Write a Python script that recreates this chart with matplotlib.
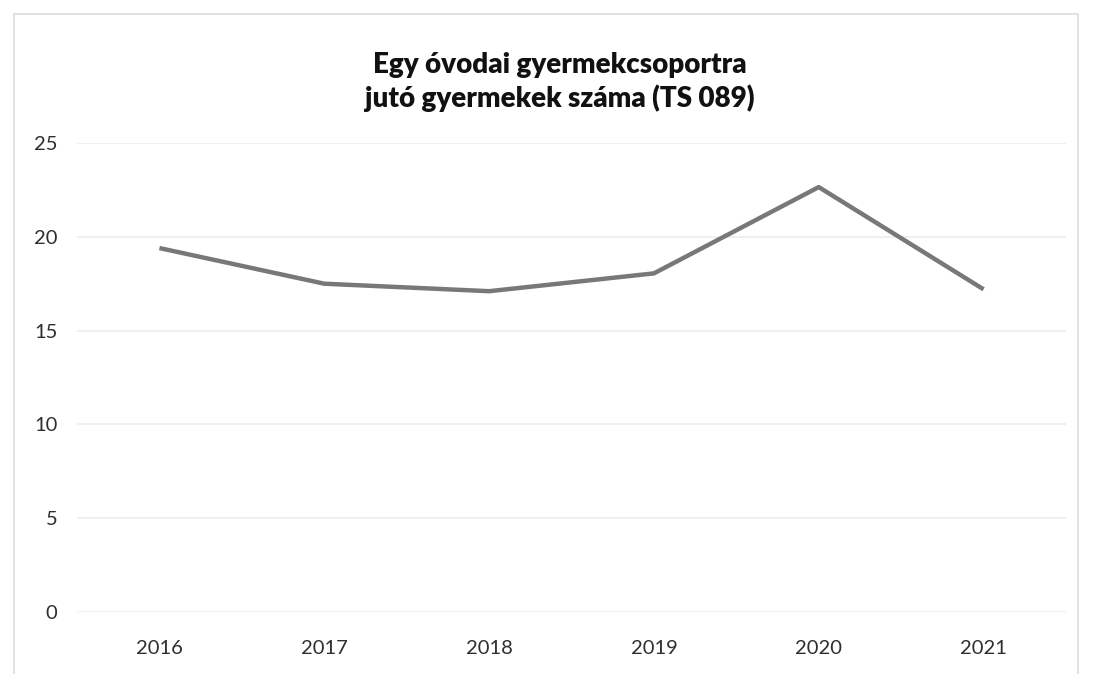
import matplotlib
matplotlib.use('Agg')
from matplotlib import pyplot as plt
from matplotlib.patches import Rectangle

# adatok
evek = ['2016', '2017', '2018', '2019', '2020', '2021']
gyermekek = [19.4, 17.5, 17.1, 18.05, 22.65, 17.2]
y_ticks = [0, 5, 10, 15, 20, 25]
cim = 'Egy óvodai gyermekcsoportra\njutó gyermekek száma (TS 089)'


def main():
    plt.rcParams['font.family'] = ['Lato', 'DejaVu Sans']

    fig = plt.figure(figsize=(10.93, 6.74), dpi=100)
    W, H = 1093, 674
    # plot area in pixels: left 77, right 1066, top 143, bottom 612
    ax = fig.add_axes([77 / W, 1 - 612 / H, (1066 - 77) / W, (612 - 143) / H])

    x = list(range(len(evek)))
    ax.plot(x, gyermekek, color='#787878', linewidth=3.2, solid_capstyle='butt')

    ax.set_xlim(-0.5, len(evek) - 0.5)
    ax.set_ylim(0, 25)
    ax.set_yticks(y_ticks)
    ax.set_yticklabels([str(t) for t in y_ticks])
    ax.set_xticks(x)
    ax.set_xticklabels(evek)
    ax.tick_params(axis='both', length=0, labelsize=14.5, colors='#2e2e2e')
    ax.tick_params(axis='y', pad=14)
    ax.tick_params(axis='x', pad=20)

    ax.grid(axis='y', color='#ececec', linewidth=1.2)
    ax.set_axisbelow(True)
    for s in ax.spines.values():
        s.set_visible(False)

    fig.text(0.512, 1 - 82 / H, cim, ha='center', va='center', fontsize=20,
             fontweight='heavy', color='#111111', linespacing=1.3)

    # a beszkennelt diagram halvány kerete
    fig.patches.append(Rectangle((14 / W, -0.01), (1078 - 14) / W, 1 - 14 / H + 0.01,
                                 transform=fig.transFigure, fill=False,
                                 edgecolor='#dcdcdc', linewidth=1.2))

    plt.savefig('out.png', dpi=100)


if __name__ == "__main__":
    main()
